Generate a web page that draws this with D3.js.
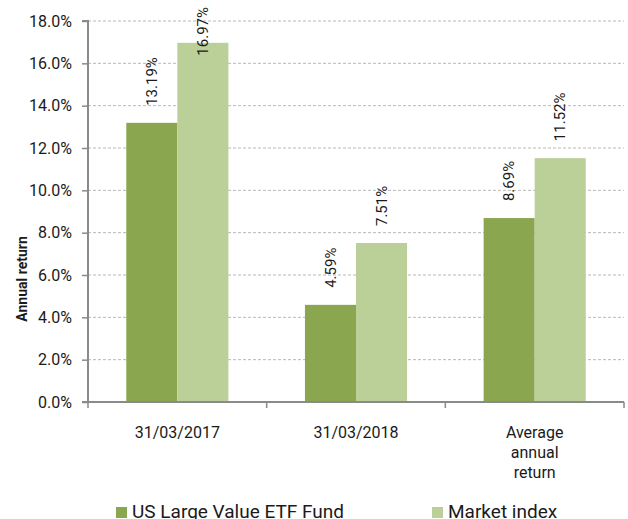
<!DOCTYPE html>
<html>
<head>
  <title>Annual return bar chart</title>
  <script src="https://d3js.org/d3.v7.min.js"></script>
  <style>
    body { margin: 0; background: #fff; }
    text { font-family: Roboto, "Noto Sans", sans-serif; fill: #1a1a1a; }
  </style>
</head>
<body>
  <div id="chart"></div>
  <script>
    // chart values
    const categories = [["31/03/2017"], ["31/03/2018"], ["Average", "annual", "return"]];
    const seriesNames = ["US Large Value ETF Fund", "Market index"];
    const fundValues = [13.19, 4.59, 8.69];
    const indexValues = [16.97, 7.51, 11.52];
    const yTicks = [0, 2, 4, 6, 8, 10, 12, 14, 16, 18];

    const colors = ["#8aa64f", "#bbcf98"];
    const width = 628, height = 519;
    const plotLeft = 88, plotRight = 624, plotTop = 21, plotBottom = 402;

    const svg = d3.select("#chart").append("svg")
      .attr("width", width)
      .attr("height", height);

    const catKeys = categories.map(c => c.join(" "));
    const x0 = d3.scaleBand().domain(catKeys).range([plotLeft, plotRight]).padding(0);
    const x1 = d3.scaleBand().domain(seriesNames).range([0, x0.bandwidth()])
      .paddingInner(0).paddingOuter(0.75);
    const y = d3.scaleLinear().domain([0, 18]).range([plotBottom, plotTop]);

    // gridlines
    svg.append("g")
      .selectAll("line")
      .data(yTicks.filter(d => d > 0))
      .join("line")
      .attr("x1", plotLeft).attr("x2", plotRight)
      .attr("y1", d => y(d)).attr("y2", d => y(d))
      .attr("stroke", "#b8b8b8")
      .attr("stroke-width", 1)
      .attr("stroke-dasharray", "3,2");

    // bars
    const rows = catKeys.map((k, i) => ({ key: k, vals: [fundValues[i], indexValues[i]] }));
    const groups = svg.append("g").selectAll("g")
      .data(rows)
      .join("g")
      .attr("transform", d => "translate(" + x0(d.key) + ",0)");

    groups.selectAll("rect")
      .data(d => d.vals.map((v, j) => ({ name: seriesNames[j], v: v, j: j })))
      .join("rect")
      .attr("x", d => x1(d.name))
      .attr("y", d => y(d.v))
      .attr("width", x1.bandwidth())
      .attr("height", d => plotBottom - y(d.v))
      .attr("fill", d => colors[d.j]);

    // rotated value labels, pushed down if they would leave the top
    groups.selectAll("text.val")
      .data(d => d.vals.map((v, j) => ({ name: seriesNames[j], v: v })))
      .join("text")
      .attr("class", "val")
      .style("font-size", "15px")
      .attr("dy", "0.35em")
      .text(d => d.v.toFixed(2) + "%")
      .each(function(d) {
        const len = this.getComputedTextLength();
        const cx = x1(d.name) + x1.bandwidth() / 2;
        const ty = Math.max(y(d.v) - 17, 7 + len);
        d3.select(this).attr("transform", "translate(" + cx + "," + ty + ") rotate(-90)");
      });

    // y axis
    const yAxis = svg.append("g")
      .attr("transform", "translate(" + plotLeft + ",0)")
      .call(d3.axisLeft(y).tickValues(yTicks).tickSize(6).tickPadding(10)
        .tickFormat(d => d.toFixed(1) + "%"));
    yAxis.select(".domain").attr("stroke", "#8a8a8a").attr("stroke-width", 2)
      .attr("d", "M-6," + plotTop + "H0V" + plotBottom);
    yAxis.selectAll(".tick line").attr("stroke", "#8a8a8a").attr("stroke-width", 1.5);
    yAxis.selectAll(".tick text").style("font-size", "16px").attr("fill", "#1a1a1a");

    // x axis line and boundary ticks
    const xAxis = svg.append("g");
    xAxis.append("line")
      .attr("x1", plotLeft - 6).attr("x2", plotRight)
      .attr("y1", plotBottom).attr("y2", plotBottom)
      .attr("stroke", "#8a8a8a").attr("stroke-width", 2);
    const bounds = catKeys.map(k => x0(k)).concat([x0(catKeys[catKeys.length - 1]) + x0.bandwidth()]);
    xAxis.selectAll("line.b")
      .data(bounds)
      .join("line")
      .attr("class", "b")
      .attr("x1", d => d).attr("x2", d => d)
      .attr("y1", plotBottom).attr("y2", plotBottom + 6)
      .attr("stroke", "#8a8a8a").attr("stroke-width", 1.5);

    xAxis.selectAll("text.cat")
      .data(categories)
      .join("text")
      .attr("class", "cat")
      .attr("text-anchor", "middle")
      .style("font-size", "16px")
      .each(function(d, i) {
        const cx = x0(catKeys[i]) + x0.bandwidth() / 2;
        d3.select(this).selectAll("tspan")
          .data(d)
          .join("tspan")
          .attr("x", cx)
          .attr("y", (t, k) => plotBottom + 36 + k * 20)
          .text(t => t);
      });

    // y axis title
    svg.append("text")
      .attr("transform", "translate(27,279) rotate(-90)")
      .attr("text-anchor", "middle")
      .style("font-size", "14px")
      .style("font-weight", "bold")
      .text("Annual return");

    // legend
    const legendX = [116, 432];
    const legend = svg.append("g").selectAll("g")
      .data(seriesNames)
      .join("g")
      .attr("transform", (d, i) => "translate(" + legendX[i] + ",507)");
    legend.append("rect")
      .attr("width", 11).attr("height", 11)
      .attr("fill", (d, i) => colors[i]);
    legend.append("text")
      .attr("x", 16).attr("y", 11)
      .style("font-size", "19px")
      .text(d => d);
  </script>
</body>
</html>
